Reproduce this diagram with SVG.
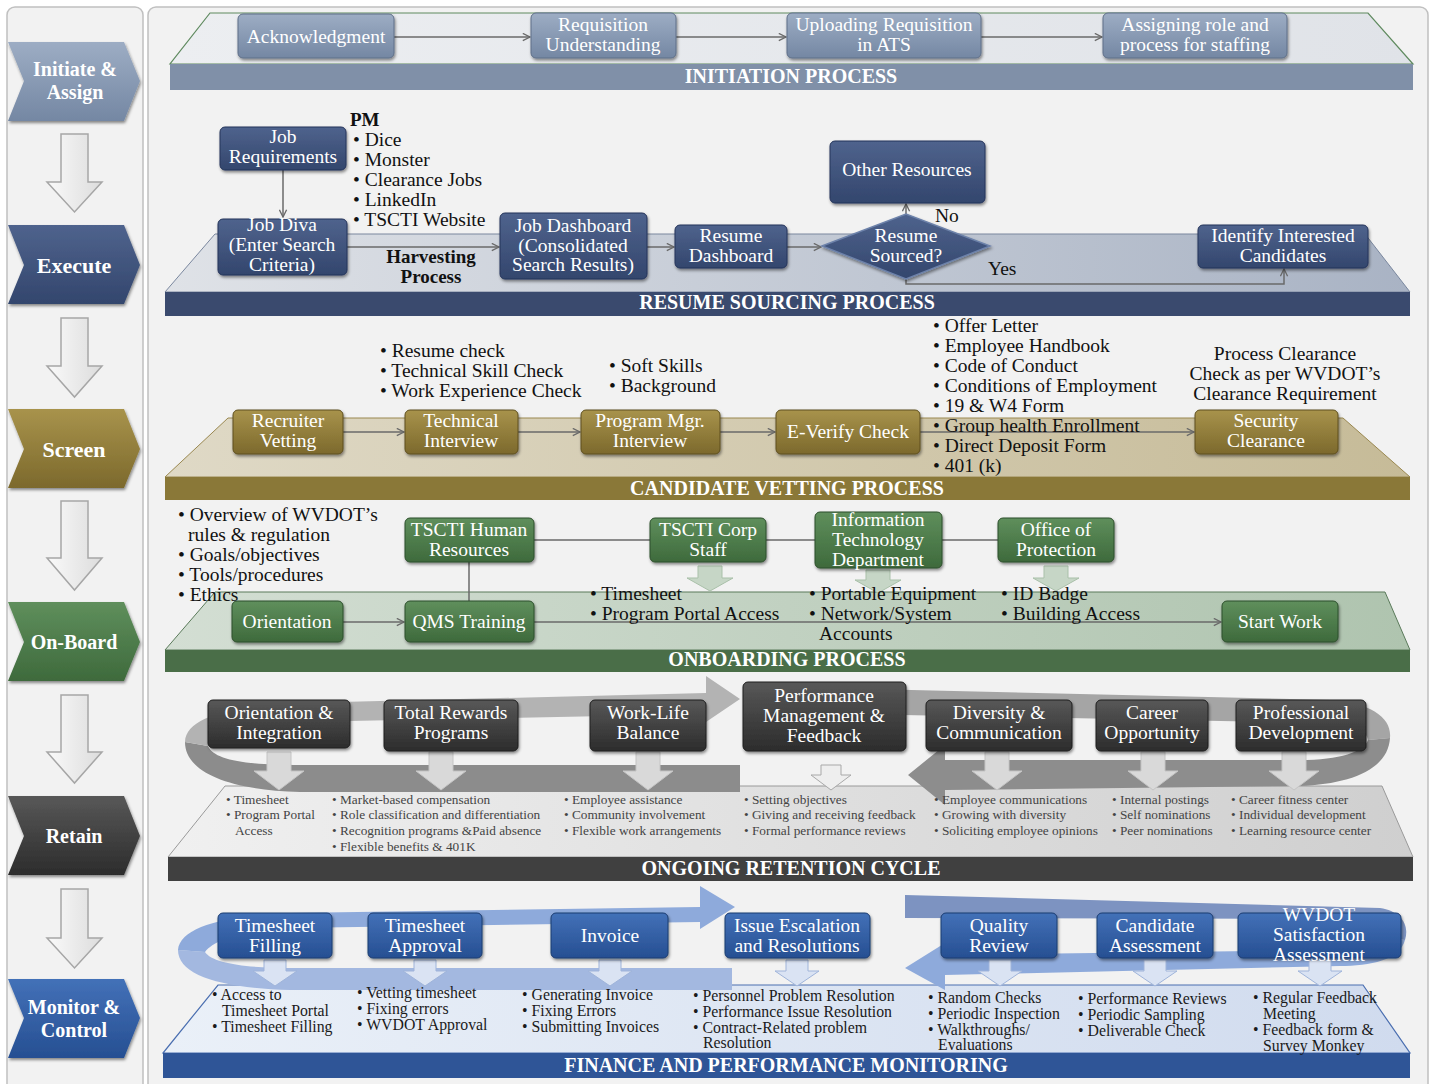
<svg xmlns="http://www.w3.org/2000/svg" width="1432" height="1084" viewBox="0 0 1432 1084">
<defs>
<style>
text{font-family:"Liberation Serif","Times New Roman",serif}
.nt{fill:#fff;font-size:19.5px;text-anchor:middle}
.bt{fill:#111;font-size:19.5px}
.st{fill:#fff;font-size:20px;font-weight:bold;text-anchor:middle}
.ct{fill:#fff;font-size:20px;font-weight:bold;text-anchor:middle}
.rb{fill:#444;font-size:13.3px}
.fb{fill:#1a1a1a;font-size:15.8px}
.con{fill:none;stroke:#6a6a6a;stroke-width:1.5}
.darr{fill:url(#gDown);stroke:#a6a6a6;stroke-width:1.5}
</style>
<filter id="sh" x="-10%" y="-10%" width="125%" height="135%"><feDropShadow dx="1" dy="2" stdDeviation="1.5" flood-color="#000" flood-opacity="0.45"/></filter>
<marker id="ah" viewBox="0 0 10 10" refX="9" refY="5" markerWidth="9" markerHeight="9" orient="auto" markerUnits="userSpaceOnUse"><path d="M1,1 L9,5 L1,9" fill="none" stroke="#6a6a6a" stroke-width="1.5"/></marker>
<linearGradient id="gDown" x1="0" y1="0" x2="1" y2="0"><stop offset="0" stop-color="#fafafa"/><stop offset="1" stop-color="#dcdcdc"/></linearGradient>
<linearGradient id="gSlate" x1="0" y1="0" x2="0" y2="1"><stop offset="0" stop-color="#9dadc4"/><stop offset="1" stop-color="#7487a3"/></linearGradient>
<linearGradient id="gNavy" x1="0" y1="0" x2="0" y2="1"><stop offset="0" stop-color="#4f638d"/><stop offset="1" stop-color="#33466d"/></linearGradient>
<linearGradient id="gOlive" x1="0" y1="0" x2="0" y2="1"><stop offset="0" stop-color="#a8934c"/><stop offset="1" stop-color="#7c692c"/></linearGradient>
<linearGradient id="gGreen" x1="0" y1="0" x2="0" y2="1"><stop offset="0" stop-color="#5f8f5c"/><stop offset="1" stop-color="#3e6a3c"/></linearGradient>
<linearGradient id="gDark" x1="0" y1="0" x2="0" y2="1"><stop offset="0" stop-color="#585858"/><stop offset="1" stop-color="#2c2c2c"/></linearGradient>
<linearGradient id="gBlue" x1="0" y1="0" x2="0" y2="1"><stop offset="0" stop-color="#4371b8"/><stop offset="1" stop-color="#264f92"/></linearGradient>
<linearGradient id="pInit" x1="0" y1="0" x2="1" y2="0"><stop offset="0" stop-color="#eceef1"/><stop offset="1" stop-color="#e0e3e8"/></linearGradient>
<linearGradient id="pRes" x1="0" y1="0" x2="1" y2="0"><stop offset="0" stop-color="#dfe2e7"/><stop offset="1" stop-color="#a9b3c4"/></linearGradient>
<linearGradient id="pVet" x1="0" y1="0" x2="1" y2="0"><stop offset="0" stop-color="#dfd9c6"/><stop offset="1" stop-color="#c6bb98"/></linearGradient>
<linearGradient id="pOn" x1="0" y1="0" x2="1" y2="0"><stop offset="0" stop-color="#d3ded3"/><stop offset="1" stop-color="#afc4af"/></linearGradient>
<linearGradient id="pRet" x1="0" y1="0" x2="1" y2="0"><stop offset="0" stop-color="#f0f0f0"/><stop offset="1" stop-color="#cfcfcf"/></linearGradient>
<linearGradient id="pFin" x1="0" y1="0" x2="1" y2="0"><stop offset="0" stop-color="#eaf0f8"/><stop offset="1" stop-color="#d0dbee"/></linearGradient>
</defs>

<rect width="1432" height="1084" fill="#ffffff"/>
<rect x="7" y="7" width="136" height="1090" rx="8" fill="#f2f2f2" stroke="#c0c0c0" stroke-width="1.5"/>
<rect x="148" y="7" width="1280" height="1090" rx="8" fill="#f2f2f2" stroke="#c0c0c0" stroke-width="1.5"/>

<!-- Left phase chevrons -->
<g id="phase-initiate"><path d="M8,42 H124 L140,81 L124,121 H8 L24,81 Z" fill="url(#gSlate)" filter="url(#sh)"/><text class="ct" x="75" y="76">Initiate &amp;</text><text class="ct" x="75" y="99">Assign</text></g>
<g id="phase-execute"><path d="M8,225 H124 L140,265 L124,304 H8 L24,265 Z" fill="url(#gNavy)" filter="url(#sh)"/><text class="ct" x="74" y="273" style="font-size:22px">Execute</text></g>
<g id="phase-screen"><path d="M8,409 H124 L140,449 L124,488 H8 L24,449 Z" fill="url(#gOlive)" filter="url(#sh)"/><text class="ct" x="74" y="457" style="font-size:22px">Screen</text></g>
<g id="phase-onboard"><path d="M8,602 H124 L140,642 L124,681 H8 L24,642 Z" fill="url(#gGreen)" filter="url(#sh)"/><text class="ct" x="74" y="649">On-Board</text></g>
<g id="phase-retain"><path d="M8,796 H124 L140,836 L124,875 H8 L24,836 Z" fill="url(#gDark)" filter="url(#sh)"/><text class="ct" x="74" y="843">Retain</text></g>
<g id="phase-monitor"><path d="M8,979 H124 L140,1018 L124,1058 H8 L24,1018 Z" fill="url(#gBlue)" filter="url(#sh)"/><text class="ct" x="74" y="1014">Monitor &amp;</text><text class="ct" x="74" y="1037">Control</text></g>

<g id="phase-arrows">
<path class="darr" d="M61,134 H88 V182 H102 L74.5,212 L47,182 H61 Z"/>
<path class="darr" d="M61,318 H88 V366 H102 L74.5,397 L47,366 H61 Z"/>
<path class="darr" d="M61,501 H88 V558 H102 L74.5,590 L47,558 H61 Z"/>
<path class="darr" d="M61,695 H88 V752 H102 L74.5,783 L47,752 H61 Z"/>
<path class="darr" d="M61,889 H88 V938 H102 L74.5,968 L47,938 H61 Z"/>
</g>

<!-- Platforms and bands -->
<g id="sec-initiation">
<path d="M210,13 H1368 L1413,64 H170 Z" fill="url(#pInit)" stroke="#5f8a5f" stroke-width="1.2"/>
<rect x="170" y="64" width="1243" height="26" fill="#8090a8"/>
<text class="st" x="791" y="83">INITIATION PROCESS</text>
</g>
<g id="sec-resume">
<path d="M215,234 H1365 L1410,292 H165 Z" fill="url(#pRes)" stroke="#7a879e" stroke-width="1"/>
<rect x="165" y="292" width="1245" height="24" fill="#3a4a6e"/>
<text class="st" x="787" y="309">RESUME SOURCING PROCESS</text>
</g>
<g id="sec-vetting">
<path d="M228,418 H1343 L1410,477 H165 Z" fill="url(#pVet)" stroke="#9a8850" stroke-width="1"/>
<rect x="165" y="477" width="1245" height="23" fill="#8a7838"/>
<text class="st" x="787" y="495">CANDIDATE VETTING PROCESS</text>
</g>
<g id="sec-onboarding">
<path d="M215,592 H1385 L1410,650 H165 Z" fill="url(#pOn)" stroke="#5a7a5a" stroke-width="1"/>
<rect x="165" y="650" width="1245" height="22" fill="#4a6e48"/>
<text class="st" x="787" y="666">ONBOARDING PROCESS</text>
</g>
<g id="sec-retention">
<path d="M225,786 H1382 L1413,857 H168 Z" fill="url(#pRet)" stroke="#9a9a9a" stroke-width="1"/>
<rect x="168" y="857" width="1245" height="24" fill="#404040"/>
<text class="st" x="791" y="875">ONGOING RETENTION CYCLE</text>
</g>
<g id="sec-finance">
<path d="M218,985 H1363 L1410,1053 H163 Z" fill="url(#pFin)" stroke="#4a6eb0" stroke-width="1.2"/>
<rect x="163" y="1053" width="1247" height="25" fill="#2f5597"/>
<text class="st" x="786" y="1072">FINANCE AND PERFORMANCE MONITORING</text>
</g>

<!-- Cycle arrows -->
<g id="cycle-retention">
<path d="M185,742 L208,746 C214,760 245,765 300,765 L740,765 L740,792 L300,792 C228,790 185,772 185,742 Z" fill="#8c8c8c"/>
<path d="M185,742 C186,716 235,706 300,703 L706,693 L706,676 L740,699 L706,722 L706,714 L300,722 C250,724 214,732 208,746 Z" fill="#b3b3b3"/>
<path d="M745,686 L1330,700 C1372,703 1392,718 1390,738 L1368,740 C1366,728 1348,723 1330,723 L745,712 Z" fill="#a5a5a5"/>
<path d="M1390,738 C1388,770 1350,784 1300,786 L945,790 L945,805 L908,775 L945,745 L945,760 L1300,760 C1340,760 1364,752 1368,740 Z" fill="#8d8d8d"/>
</g>
<g id="cycle-finance">
<path d="M178,950 L205,952 C212,963 245,968 290,968 L732,968 L732,990 L290,990 C220,988 178,975 178,950 Z" fill="#a3b8e0"/>
<path d="M178,950 C180,926 230,915 290,913 L700,907 L700,886 L735,907 L700,929 L700,922 L290,928 C250,930 215,938 205,952 Z" fill="#8eaadb"/>
<path d="M905,895 L1380,908 C1400,911 1410,924 1405,940 L1385,938 C1385,926 1370,920 1350,919 L905,918 Z" fill="#7d93c1"/>
<path d="M1405,940 C1400,960 1370,966 1340,966 L945,975 L945,990 L905,968 L945,943 L945,955 L1340,950 C1365,950 1383,946 1385,938 Z" fill="#8eaadb"/>
</g>

<!-- Connectors -->
<g id="connectors">
<path class="con" d="M394,37 H530" marker-end="url(#ah)"/>
<path class="con" d="M676,37 H786" marker-end="url(#ah)"/>
<path class="con" d="M981,37 H1102" marker-end="url(#ah)"/>
<path class="con" d="M283,170 V217" marker-end="url(#ah)"/>
<path class="con" d="M347,247 H499" marker-end="url(#ah)"/>
<path class="con" d="M647,247 H674" marker-end="url(#ah)"/>
<path class="con" d="M787,247 H821" marker-end="url(#ah)"/>
<path class="con" d="M906,214 V204" marker-end="url(#ah)"/>
<path class="con" d="M906,278 V284 H1284 V269" marker-end="url(#ah)"/>
<path class="con" d="M343,432 H404" marker-end="url(#ah)"/>
<path class="con" d="M518,432 H580" marker-end="url(#ah)"/>
<path class="con" d="M720,432 H775" marker-end="url(#ah)"/>
<path class="con" d="M920,432 H1194" marker-end="url(#ah)"/>
<path class="con" d="M343,622 H404" marker-end="url(#ah)"/>
<path class="con" d="M534,622 H1221" marker-end="url(#ah)"/>
<path class="con" d="M469,562 V601"/>
<path class="con" d="M534,540 H650 M766,540 H815 M942,540 H998"/>
</g>

<!-- Small block arrows -->
<g id="block-arrows" stroke-width="1">
<g fill="#c6d6c6" stroke="#a9c0a9">
<path d="M698,566 H722 V578 H733 L710,591 L687,578 H698 Z"/>
<path d="M866,570 H890 V580 H901 L878,593 L855,580 H866 Z"/>
<path d="M1044,566 H1068 V578 H1079 L1056,591 L1033,578 H1044 Z"/>
</g>
<g fill="#d9d9d9" stroke="#c4c4c4">
<path d="M267,752 H291 V771 H304 L279,790 L254,771 H267 Z"/>
<path d="M429,752 H453 V771 H466 L441,790 L416,771 H429 Z"/>
<path d="M636,752 H660 V771 H673 L648,790 L623,771 H636 Z"/>
<path d="M821,765 H841 V775 H851 L831,790 L811,775 H821 Z" fill="#eeeeee" stroke="#a8a8a8"/>
<path d="M985,752 H1009 V771 H1022 L997,790 L972,771 H985 Z"/>
<path d="M1141,752 H1165 V771 H1178 L1153,790 L1128,771 H1141 Z"/>
<path d="M1282,752 H1306 V771 H1319 L1294,790 L1269,771 H1282 Z"/>
</g>
<g fill="#dae3f3" stroke="#9fb4da">
<path d="M264,960 H286 V971 H297 L275,986 L253,971 H264 Z"/>
<path d="M414,960 H436 V971 H447 L425,986 L403,971 H414 Z"/>
<path d="M599,960 H621 V971 H632 L610,986 L588,971 H599 Z"/>
<path d="M786,960 H808 V971 H819 L797,986 L775,971 H786 Z"/>
<path d="M989,960 H1011 V971 H1022 L1000,986 L978,971 H989 Z"/>
<path d="M1144,960 H1166 V971 H1177 L1155,986 L1133,971 H1144 Z"/>
<path d="M1309,960 H1331 V971 H1342 L1320,986 L1298,971 H1309 Z"/>
</g>
</g>

<!-- Initiation nodes -->
<g id="n-ack"><rect x="238" y="14" width="156" height="44" rx="5" fill="url(#gSlate)" stroke="#5f6f88" filter="url(#sh)"/><text class="nt" x="316" y="43">Acknowledgment</text></g>
<g id="n-requnder"><rect x="531" y="13" width="145" height="45" rx="5" fill="url(#gSlate)" stroke="#5f6f88" filter="url(#sh)"/><text class="nt" x="603" y="31">Requisition</text><text class="nt" x="603" y="51">Understanding</text></g>
<g id="n-upload"><rect x="787" y="13" width="194" height="45" rx="5" fill="url(#gSlate)" stroke="#5f6f88" filter="url(#sh)"/><text class="nt" x="884" y="31">Uploading Requisition</text><text class="nt" x="884" y="51">in ATS</text></g>
<g id="n-assign"><rect x="1103" y="13" width="184" height="45" rx="5" fill="url(#gSlate)" stroke="#5f6f88" filter="url(#sh)"/><text class="nt" x="1195" y="31">Assigning role and</text><text class="nt" x="1195" y="51">process for staffing</text></g>

<!-- Resume sourcing nodes -->
<g id="n-jobreq"><rect x="220" y="127" width="126" height="43" rx="5" fill="url(#gNavy)" stroke="#24345a" filter="url(#sh)"/><text class="nt" x="283" y="143">Job</text><text class="nt" x="283" y="163">Requirements</text></g>
<g id="n-jobdiva"><rect x="218" y="219" width="129" height="56" rx="5" fill="url(#gNavy)" stroke="#24345a" filter="url(#sh)"/><text class="nt" x="282" y="231">Job Diva</text><text class="nt" x="282" y="251">(Enter Search</text><text class="nt" x="282" y="271">Criteria)</text></g>
<g id="n-jobdash"><rect x="500" y="213" width="147" height="66" rx="5" fill="url(#gNavy)" stroke="#24345a" filter="url(#sh)"/><text class="nt" x="573" y="232">Job Dashboard</text><text class="nt" x="573" y="252">(Consolidated</text><text class="nt" x="573" y="271">Search Results)</text></g>
<g id="n-resdash"><rect x="675" y="225" width="112" height="43" rx="5" fill="url(#gNavy)" stroke="#24345a" filter="url(#sh)"/><text class="nt" x="731" y="242">Resume</text><text class="nt" x="731" y="262">Dashboard</text></g>
<g id="n-sourced"><path d="M822,246 L906,214 L990,246 L906,279 Z" fill="url(#gNavy)" stroke="#6d82aa" stroke-width="1.5" filter="url(#sh)"/><text class="nt" x="906" y="242">Resume</text><text class="nt" x="906" y="262">Sourced?</text></g>
<g id="n-other"><rect x="830" y="141" width="155" height="62" rx="5" fill="url(#gNavy)" stroke="#24345a" filter="url(#sh)"/><text class="nt" x="907" y="176">Other Resources</text></g>
<g id="n-identify"><rect x="1198" y="225" width="170" height="43" rx="5" fill="url(#gNavy)" stroke="#24345a" filter="url(#sh)"/><text class="nt" x="1283" y="242">Identify Interested</text><text class="nt" x="1283" y="262">Candidates</text></g>

<g id="resume-texts">
<text x="350" y="126" style="font-size:19px;font-weight:bold;fill:#111">PM</text>
<text class="bt" x="353" y="146">• Dice</text>
<text class="bt" x="353" y="166">• Monster</text>
<text class="bt" x="353" y="186">• Clearance Jobs</text>
<text class="bt" x="353" y="206">• LinkedIn</text>
<text class="bt" x="353" y="226">• TSCTI Website</text>
<text x="431" y="263" style="font-size:19px;font-weight:bold;fill:#111;text-anchor:middle">Harvesting</text>
<text x="431" y="283" style="font-size:19px;font-weight:bold;fill:#111;text-anchor:middle">Process</text>
<text class="bt" x="935" y="222">No</text>
<text class="bt" x="988" y="275">Yes</text>
</g>

<!-- Vetting nodes -->
<g id="n-recruiter"><rect x="233" y="410" width="110" height="44" rx="5" fill="url(#gOlive)" stroke="#5e4f1e" filter="url(#sh)"/><text class="nt" x="288" y="427">Recruiter</text><text class="nt" x="288" y="447">Vetting</text></g>
<g id="n-techint"><rect x="405" y="410" width="113" height="44" rx="5" fill="url(#gOlive)" stroke="#5e4f1e" filter="url(#sh)"/><text class="nt" x="461" y="427">Technical</text><text class="nt" x="461" y="447">Interview</text></g>
<g id="n-pmint"><rect x="581" y="410" width="139" height="44" rx="5" fill="url(#gOlive)" stroke="#5e4f1e" filter="url(#sh)"/><text class="nt" x="650" y="427">Program Mgr.</text><text class="nt" x="650" y="447">Interview</text></g>
<g id="n-everify"><rect x="776" y="410" width="144" height="44" rx="5" fill="url(#gOlive)" stroke="#5e4f1e" filter="url(#sh)"/><text class="nt" x="848" y="438">E-Verify Check</text></g>
<g id="n-security"><rect x="1195" y="410" width="143" height="44" rx="5" fill="url(#gOlive)" stroke="#5e4f1e" filter="url(#sh)"/><text class="nt" x="1266" y="427">Security</text><text class="nt" x="1266" y="447">Clearance</text></g>

<g id="vetting-texts">
<text class="bt" x="380" y="357">• Resume check</text>
<text class="bt" x="380" y="377">• Technical Skill Check</text>
<text class="bt" x="380" y="397">• Work Experience Check</text>
<text class="bt" x="609" y="372">• Soft Skills</text>
<text class="bt" x="609" y="392">• Background</text>
<text class="bt" x="933" y="332">• Offer Letter</text>
<text class="bt" x="933" y="352">• Employee Handbook</text>
<text class="bt" x="933" y="372">• Code of Conduct</text>
<text class="bt" x="933" y="392">• Conditions of Employment</text>
<text class="bt" x="933" y="412">• 19 &amp; W4 Form</text>
<text class="bt" x="933" y="432">• Group health Enrollment</text>
<text class="bt" x="933" y="452">• Direct Deposit Form</text>
<text class="bt" x="933" y="472">• 401 (k)</text>
<text class="bt" x="1285" y="360" text-anchor="middle">Process Clearance</text>
<text class="bt" x="1285" y="380" text-anchor="middle">Check as per WVDOT’s</text>
<text class="bt" x="1285" y="400" text-anchor="middle">Clearance Requirement</text>
</g>

<!-- Onboarding nodes -->
<g id="n-orient"><rect x="232" y="601" width="111" height="41" rx="5" fill="url(#gGreen)" stroke="#2d4f2c" filter="url(#sh)"/><text class="nt" x="287" y="628">Orientation</text></g>
<g id="n-qms"><rect x="405" y="601" width="129" height="41" rx="5" fill="url(#gGreen)" stroke="#2d4f2c" filter="url(#sh)"/><text class="nt" x="469" y="628">QMS Training</text></g>
<g id="n-hr"><rect x="405" y="518" width="129" height="44" rx="5" fill="url(#gGreen)" stroke="#2d4f2c" filter="url(#sh)"/><text class="nt" x="469" y="536">TSCTI Human</text><text class="nt" x="469" y="556">Resources</text></g>
<g id="n-corp"><rect x="650" y="518" width="116" height="44" rx="5" fill="url(#gGreen)" stroke="#2d4f2c" filter="url(#sh)"/><text class="nt" x="708" y="536">TSCTI Corp</text><text class="nt" x="708" y="556">Staff</text></g>
<g id="n-it"><rect x="815" y="512" width="127" height="56" rx="5" fill="url(#gGreen)" stroke="#2d4f2c" filter="url(#sh)"/><text class="nt" x="878" y="526">Information</text><text class="nt" x="878" y="546">Technology</text><text class="nt" x="878" y="566">Department</text></g>
<g id="n-protect"><rect x="998" y="518" width="116" height="44" rx="5" fill="url(#gGreen)" stroke="#2d4f2c" filter="url(#sh)"/><text class="nt" x="1056" y="536">Office of</text><text class="nt" x="1056" y="556">Protection</text></g>
<g id="n-start"><rect x="1222" y="601" width="116" height="41" rx="5" fill="url(#gGreen)" stroke="#2d4f2c" filter="url(#sh)"/><text class="nt" x="1280" y="628">Start Work</text></g>

<g id="onboard-texts">
<text class="bt" x="178" y="521">• Overview of WVDOT’s</text>
<text class="bt" x="188" y="541">rules &amp; regulation</text>
<text class="bt" x="178" y="561">• Goals/objectives</text>
<text class="bt" x="178" y="581">• Tools/procedures</text>
<text class="bt" x="178" y="601">• Ethics</text>
<text class="bt" x="590" y="600">• Timesheet</text>
<text class="bt" x="590" y="620">• Program Portal Access</text>
<text class="bt" x="809" y="600">• Portable Equipment</text>
<text class="bt" x="809" y="620">• Network/System</text>
<text class="bt" x="819" y="640">Accounts</text>
<text class="bt" x="1001" y="600">• ID Badge</text>
<text class="bt" x="1001" y="620">• Building Access</text>
</g>

<!-- Retention nodes -->
<g id="n-orientint"><rect x="208" y="700" width="142" height="48" rx="5" fill="url(#gDark)" stroke="#1e1e1e" filter="url(#sh)"/><text class="nt" x="279" y="719">Orientation &amp;</text><text class="nt" x="279" y="739">Integration</text></g>
<g id="n-rewards"><rect x="384" y="700" width="134" height="51" rx="5" fill="url(#gDark)" stroke="#1e1e1e" filter="url(#sh)"/><text class="nt" x="451" y="719">Total Rewards</text><text class="nt" x="451" y="739">Programs</text></g>
<g id="n-worklife"><rect x="590" y="700" width="116" height="51" rx="5" fill="url(#gDark)" stroke="#1e1e1e" filter="url(#sh)"/><text class="nt" x="648" y="719">Work-Life</text><text class="nt" x="648" y="739">Balance</text></g>
<g id="n-perf"><rect x="743" y="682" width="163" height="69" rx="5" fill="url(#gDark)" stroke="#1e1e1e" filter="url(#sh)"/><text class="nt" x="824" y="702">Performance</text><text class="nt" x="824" y="722">Management &amp;</text><text class="nt" x="824" y="742">Feedback</text></g>
<g id="n-diversity"><rect x="926" y="700" width="146" height="51" rx="5" fill="url(#gDark)" stroke="#1e1e1e" filter="url(#sh)"/><text class="nt" x="999" y="719">Diversity &amp;</text><text class="nt" x="999" y="739">Communication</text></g>
<g id="n-career"><rect x="1096" y="700" width="112" height="51" rx="5" fill="url(#gDark)" stroke="#1e1e1e" filter="url(#sh)"/><text class="nt" x="1152" y="719">Career</text><text class="nt" x="1152" y="739">Opportunity</text></g>
<g id="n-profdev"><rect x="1236" y="700" width="130" height="51" rx="5" fill="url(#gDark)" stroke="#1e1e1e" filter="url(#sh)"/><text class="nt" x="1301" y="719">Professional</text><text class="nt" x="1301" y="739">Development</text></g>

<g id="retention-texts">
<text class="rb" x="226" y="804">• Timesheet</text>
<text class="rb" x="226" y="819">• Program Portal</text>
<text class="rb" x="235" y="835">Access</text>
<text class="rb" x="332" y="804">• Market-based compensation</text>
<text class="rb" x="332" y="819">• Role classification and differentiation</text>
<text class="rb" x="332" y="835">• Recognition programs &amp;Paid absence</text>
<text class="rb" x="332" y="851">• Flexible benefits &amp; 401K</text>
<text class="rb" x="564" y="804">• Employee assistance</text>
<text class="rb" x="564" y="819">• Community involvement</text>
<text class="rb" x="564" y="835">• Flexible work arrangements</text>
<text class="rb" x="744" y="804">• Setting objectives</text>
<text class="rb" x="744" y="819">• Giving and receiving feedback</text>
<text class="rb" x="744" y="835">• Formal performance reviews</text>
<text class="rb" x="934" y="804">• Employee communications</text>
<text class="rb" x="934" y="819">• Growing with diversity</text>
<text class="rb" x="934" y="835">• Soliciting employee opinions</text>
<text class="rb" x="1112" y="804">• Internal postings</text>
<text class="rb" x="1112" y="819">• Self nominations</text>
<text class="rb" x="1112" y="835">• Peer nominations</text>
<text class="rb" x="1231" y="804">• Career fitness center</text>
<text class="rb" x="1231" y="819">• Individual development</text>
<text class="rb" x="1231" y="835">• Learning resource center</text>
</g>

<!-- Finance nodes -->
<g id="n-tsfill"><rect x="218" y="913" width="114" height="45" rx="5" fill="url(#gBlue)" stroke="#1c3c70" filter="url(#sh)"/><text class="nt" x="275" y="932">Timesheet</text><text class="nt" x="275" y="952">Filling</text></g>
<g id="n-tsappr"><rect x="368" y="913" width="114" height="45" rx="5" fill="url(#gBlue)" stroke="#1c3c70" filter="url(#sh)"/><text class="nt" x="425" y="932">Timesheet</text><text class="nt" x="425" y="952">Approval</text></g>
<g id="n-invoice"><rect x="551" y="913" width="117" height="45" rx="5" fill="url(#gBlue)" stroke="#1c3c70" filter="url(#sh)"/><text class="nt" x="610" y="942">Invoice</text></g>
<g id="n-issue"><rect x="725" y="913" width="145" height="45" rx="5" fill="url(#gBlue)" stroke="#1c3c70" filter="url(#sh)"/><text class="nt" x="797" y="932">Issue Escalation</text><text class="nt" x="797" y="952">and Resolutions</text></g>
<g id="n-quality"><rect x="941" y="913" width="116" height="45" rx="5" fill="url(#gBlue)" stroke="#1c3c70" filter="url(#sh)"/><text class="nt" x="999" y="932">Quality</text><text class="nt" x="999" y="952">Review</text></g>
<g id="n-candassess"><rect x="1097" y="913" width="116" height="45" rx="5" fill="url(#gBlue)" stroke="#1c3c70" filter="url(#sh)"/><text class="nt" x="1155" y="932">Candidate</text><text class="nt" x="1155" y="952">Assessment</text></g>
<g id="n-wvdot"><rect x="1238" y="913" width="163" height="45" rx="5" fill="url(#gBlue)" stroke="#1c3c70" filter="url(#sh)"/><text class="nt" x="1319" y="921">WVDOT</text><text class="nt" x="1319" y="941">Satisfaction</text><text class="nt" x="1319" y="961">Assessment</text></g>

<g id="finance-texts">
<text class="fb" x="212" y="1000">• Access to</text>
<text class="fb" x="222" y="1016">Timesheet Portal</text>
<text class="fb" x="212" y="1032">• Timesheet Filling</text>
<text class="fb" x="357" y="998">• Vetting timesheet</text>
<text class="fb" x="357" y="1014">• Fixing errors</text>
<text class="fb" x="357" y="1030">• WVDOT Approval</text>
<text class="fb" x="522" y="1000">• Generating Invoice</text>
<text class="fb" x="522" y="1016">• Fixing Errors</text>
<text class="fb" x="522" y="1032">• Submitting Invoices</text>
<text class="fb" x="693" y="1001">• Personnel Problem Resolution</text>
<text class="fb" x="693" y="1017">• Performance Issue Resolution</text>
<text class="fb" x="693" y="1033">• Contract-Related problem</text>
<text class="fb" x="703" y="1048">Resolution</text>
<text class="fb" x="928" y="1003">• Random Checks</text>
<text class="fb" x="928" y="1019">• Periodic Inspection</text>
<text class="fb" x="928" y="1035">• Walkthroughs/</text>
<text class="fb" x="938" y="1050">Evaluations</text>
<text class="fb" x="1078" y="1004">• Performance Reviews</text>
<text class="fb" x="1078" y="1020">• Periodic Sampling</text>
<text class="fb" x="1078" y="1036">• Deliverable Check</text>
<text class="fb" x="1253" y="1003">• Regular Feedback</text>
<text class="fb" x="1263" y="1019">Meeting</text>
<text class="fb" x="1253" y="1035">• Feedback form &amp;</text>
<text class="fb" x="1263" y="1051">Survey Monkey</text>
</g>
</svg>
